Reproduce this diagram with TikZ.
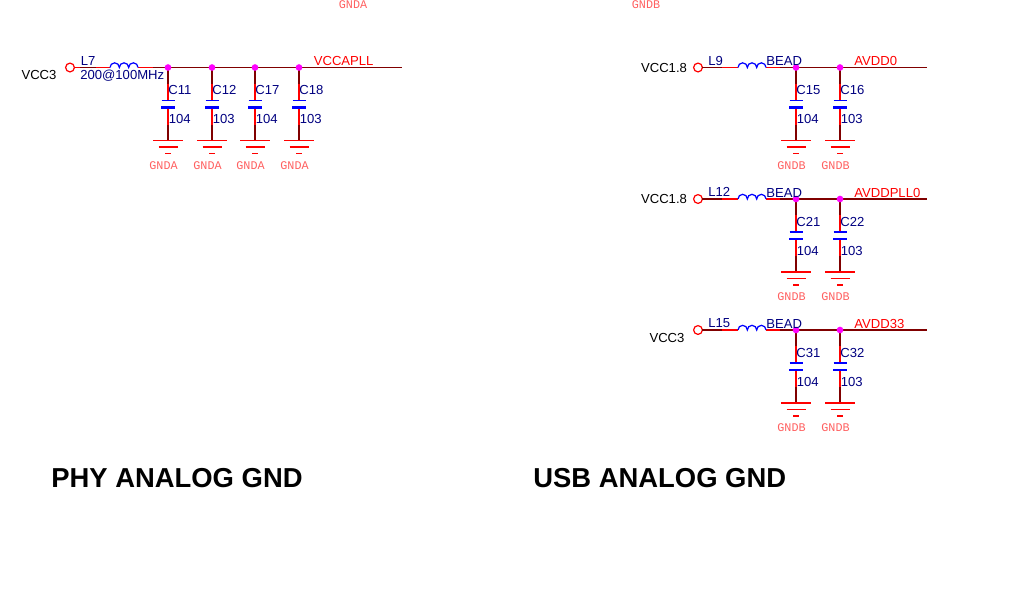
\documentclass[tikz,border=0pt]{standalone}
\usepackage{fontspec}
\setmainfont{Liberation Sans}
\newfontfamily\gndfont{Liberation Mono}
\usetikzlibrary{calc}

\definecolor{netmaroon}{HTML}{800000}
\definecolor{partblue}{HTML}{0000FF}
\definecolor{partnavy}{HTML}{000080}
\definecolor{gndpink}{HTML}{FF6060}
\definecolor{dotmagenta}{HTML}{FF00FF}

\tikzset{
    netline/.style={draw=netmaroon, line width=0.65pt},
    leadline/.style={draw=red, line width=0.65pt},
    partline/.style={draw=partblue, line width=0.7pt},
    junction/.style={circle, fill=dotmagenta, inner sep=0pt, minimum size=3.8pt},
    terminal/.style={circle, draw=red, fill=white, line width=0.7pt, inner sep=0pt, minimum size=5pt},
    partname/.style={font=\fontsize{7.45}{8}\selectfont, text=partnavy, inner sep=0pt, anchor=west},
    netname/.style={font=\fontsize{7.45}{8}\selectfont, text=red, inner sep=0pt, anchor=west},
    railname/.style={font=\fontsize{7.45}{8}\selectfont, text=black, inner sep=0pt},
    gndname/.style={font=\gndfont\fontsize{6.7}{7}\selectfont, text=gndpink, inner sep=0pt},
    titletext/.style={font=\bfseries\fontsize{15.6}{17}\selectfont, inner sep=0pt, anchor=west}
}

\begin{document}
\begin{tikzpicture}[x=0.02cm, y=0.02cm]
    \useasboundingbox (0,0) rectangle (1033,-589);

    % capacitor branches
    \foreach \cname\cval\x\y\gnd in {11/104/168/-67.5/GNDA, 12/103/212/-67.5/GNDA, 17/104/255/-67.5/GNDA, 18/103/299/-67.5/GNDA,
        15/104/796/-67.5/GNDB, 16/103/840/-67.5/GNDB, 21/104/796/-199/GNDB, 22/103/840/-199/GNDB,
        31/104/796/-330/GNDB, 32/103/840/-330/GNDB} {
        \coordinate (j\cname) at (\x,\y);
        \coordinate (m\cname) at (\x,\y-16);
        \coordinate (a\cname) at (\x,\y-33);
        \coordinate (b\cname) at (\x,\y-40);
        \coordinate (n\cname) at (\x,\y-57);
        \coordinate (g\cname) at (\x,\y-73);

        \draw[netline] (j\cname)--(m\cname) (n\cname)--(g\cname);
        \draw[leadline] (m\cname)--(a\cname) (b\cname)--(n\cname);
        \draw[partline] (a\cname) ++(-6.5,0) -- ++(13,0);
        \draw[partline, line width=1.5pt] (b\cname) ++(-7,0) -- ++(14,0);

        \draw[leadline] (g\cname) ++(-15,0) -- ++(30,0);
        \draw[leadline] (g\cname) ++(-9.5,-6.5) -- ++(19,0);
        \draw[leadline] (g\cname) ++(-3,-13) -- ++(6,0);

        \node[partname] (c\cname) at (\x,\y-22.5) {C\cname};
        \node[partname] (v\cname) at (\x+0.5,\y-51.5) {\cval};
        \node[gndname] (gt\cname) at (\x-4.5,\y-98) {\gnd};
    }

    % filter inputs
    \foreach \lname\rail\xt\xa\xm\xl\xr\xs\xj\y\lx\rx\ry in {7/VCC3/70/80/96/110/138/153/11/-67.5/80.5/39/-75,
        9/VCC1.8/698/702/722/738/766/780/15/-67.5/708/664/-68,
        12/VCC1.8/698/702/722/738/766/780/21/-199/708/664/-199,
        15/VCC3/698/702/722/738/766/780/31/-330/708/667/-338} {
        \node[terminal] (t\lname) at (\xt,\y) {};
        \coordinate (p\lname) at (\xa,\y);
        \coordinate (q\lname) at (\xm,\y);
        \coordinate (l\lname) at (\xl,\y);
        \coordinate (r\lname) at (\xr,\y);
        \coordinate (s\lname) at (\xs,\y);

        \draw[leadline] (t\lname)--(p\lname);
        \draw[netline] (p\lname)--(q\lname);
        \draw[leadline] (q\lname)--(l\lname) (r\lname)--(s\lname);
        \draw[netline] (s\lname)--(j\xj);
        \draw[partline] (l\lname) arc (180:0:4.67) arc (180:0:4.67) arc (180:0:4.67);

        \node[partname] (ln\lname) at (\lx,\y+7) {L\lname};
        \node[railname] (rl\lname) at (\rx,\ry) {\rail};
    }

    % output nets
    \coordinate (e18) at (402,-67.5);
    \coordinate (e16) at (927,-67.5);
    \coordinate (e22) at (927,-199);
    \coordinate (e32) at (927,-330);
    \draw[netline] (j11)--(j12)--(j17)--(j18)--(e18);
    \draw[netline] (j15)--(j16)--(e16);
    \draw[netline] (j21)--(j22)--(e22);
    \draw[netline] (j31)--(j32)--(e32);

    \foreach \cname in {11,12,17,18,15,16,21,22,31,32} {
        \node[junction] (d\cname) at (j\cname) {};
    }

    \node[partname] (bead7) at (80,-76) {200@100MHz};
    \node[partname] (bead9) at (766,-61) {BEAD};
    \node[partname] (bead12) at (766,-192.5) {BEAD};
    \node[partname] (bead15) at (766,-323.5) {BEAD};

    \node[netname] (vccapll) at (313.5,-61) {VCCAPLL};
    \node[netname] (avdd0) at (854,-61) {AVDD0};
    \node[netname] (avddpll) at (854,-192.5) {AVDDPLL0};
    \node[netname] (avdd33) at (854,-323.5) {AVDD33};

    \node[gndname] (gnda) at (353,-4.5) {GNDA};
    \node[gndname] (gndb) at (646,-4.5) {GNDB};

    \node[titletext] (phy) at (51,-478) {PHY ANALOG GND};
    \node[titletext] (usb) at (533,-478) {USB ANALOG GND};
\end{tikzpicture}
\end{document}
